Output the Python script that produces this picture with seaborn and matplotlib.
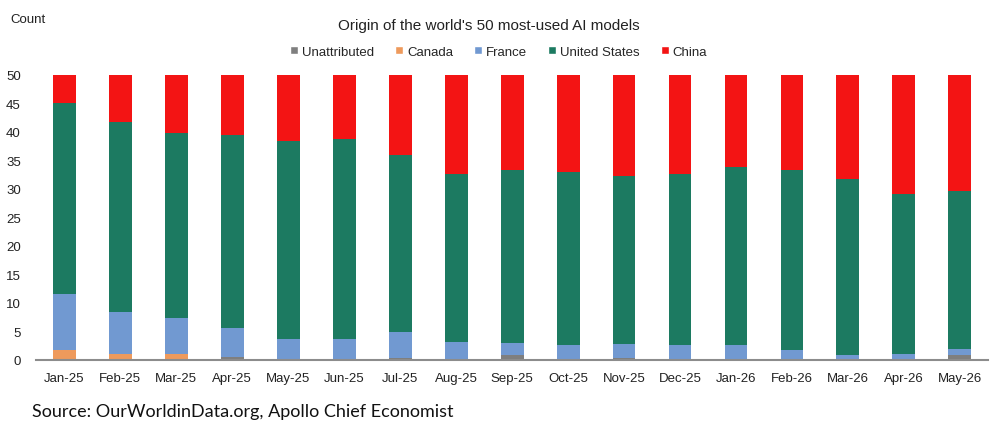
import matplotlib
matplotlib.use("Agg")
import matplotlib.pyplot as plt
import numpy as np
import pandas as pd
import seaborn as sns
from matplotlib.patches import Patch

# Monthly counts of the 50 most-used AI models by origin
months = ["Jan-25", "Feb-25", "Mar-25", "Apr-25", "May-25", "Jun-25", "Jul-25", "Aug-25",
          "Sep-25", "Oct-25", "Nov-25", "Dec-25", "Jan-26", "Feb-26", "Mar-26", "Apr-26", "May-26"]
unattributed = [0.0, 0.0, 0.0, 0.45, 0.1, 0.1, 0.3, 0.2, 0.9, 0.05, 0.4, 0.05, 0.05, 0.1, 0.05, 0.05, 0.95]
canada = [1.75, 1.1, 1.0, 0, 0, 0, 0, 0, 0, 0, 0, 0, 0, 0, 0, 0, 0]
france = [9.9, 7.3, 6.3, 5.1, 3.5, 3.5, 4.65, 3.0, 2.0, 2.65, 2.35, 2.65, 2.6, 1.65, 0.9, 1.05, 1.05]
united_states = [33.35, 33.4, 32.6, 33.85, 34.9, 35.1, 30.95, 29.4, 30.4, 30.3, 29.55, 30.0, 31.15, 31.65, 30.85, 28.0, 27.6]
china = [5.0, 8.2, 10.1, 10.6, 11.5, 11.3, 14.1, 17.4, 16.7, 17.0, 17.7, 17.3, 16.2, 16.6, 18.2, 20.9, 20.4]

series = ["Unattributed", "Canada", "France", "United States", "China"]
colors = {"Unattributed": "#7f7f7f", "Canada": "#ee9a5c", "France": "#7199d1",
          "United States": "#1c7a61", "China": "#f31414"}

df = pd.DataFrame({"month": months, "Unattributed": unattributed, "Canada": canada,
                   "France": france, "United States": united_states, "China": china})
# cumulative totals so bars can be overplotted from the top layer down
cum = df[series].cumsum(axis=1)

sns.set_theme(style="white")
plt.rcParams["font.family"] = ["Liberation Sans", "DejaVu Sans"]

fig = plt.figure(figsize=(10.03, 4.27), dpi=100)
ax = fig.add_axes([0.036, 0.1546, 0.949, 0.6675])

for name in reversed(series):
    sns.barplot(x=df["month"], y=cum[name], color=colors[name], width=0.41,
                saturation=1, ax=ax, linewidth=0)

ax.set_xlim(-0.5, len(months) - 0.5)
ax.set_ylim(0, 50)
ax.set_yticks(range(0, 51, 5))
ax.set_xlabel("")
ax.set_ylabel("")
ax.tick_params(axis="both", length=0, labelsize=9.5, colors="#222222")
ax.tick_params(axis="x", pad=9)
ax.tick_params(axis="y", pad=11)
for s in ["top", "right", "left"]:
    ax.spines[s].set_visible(False)
ax.spines["bottom"].set_color("#8c8c8c")
ax.spines["bottom"].set_linewidth(1.5)
ax.grid(False)

fig.text(0.487, 0.938, "Origin of the world's 50 most-used AI models", ha="center",
         va="center", fontsize=11, color="#222222")
fig.text(0.01, 0.952, "Count", ha="left", va="center", fontsize=9.5, color="#222222")

handles = [Patch(facecolor=colors[n], label=n) for n in series]
fig.legend(handles=handles, loc="center", bbox_to_anchor=(0.497, 0.876), ncol=5,
           frameon=False, fontsize=9.5, handlelength=0.6, handleheight=0.6,
           handletextpad=0.3, columnspacing=1.6)

fig.text(0.032, 0.036, "Source: OurWorldinData.org, Apollo Chief Economist", ha="left",
         va="center", fontsize=13, family=["Lato", "DejaVu Sans"], color="#111111")

fig.savefig("out.png", dpi=100)
